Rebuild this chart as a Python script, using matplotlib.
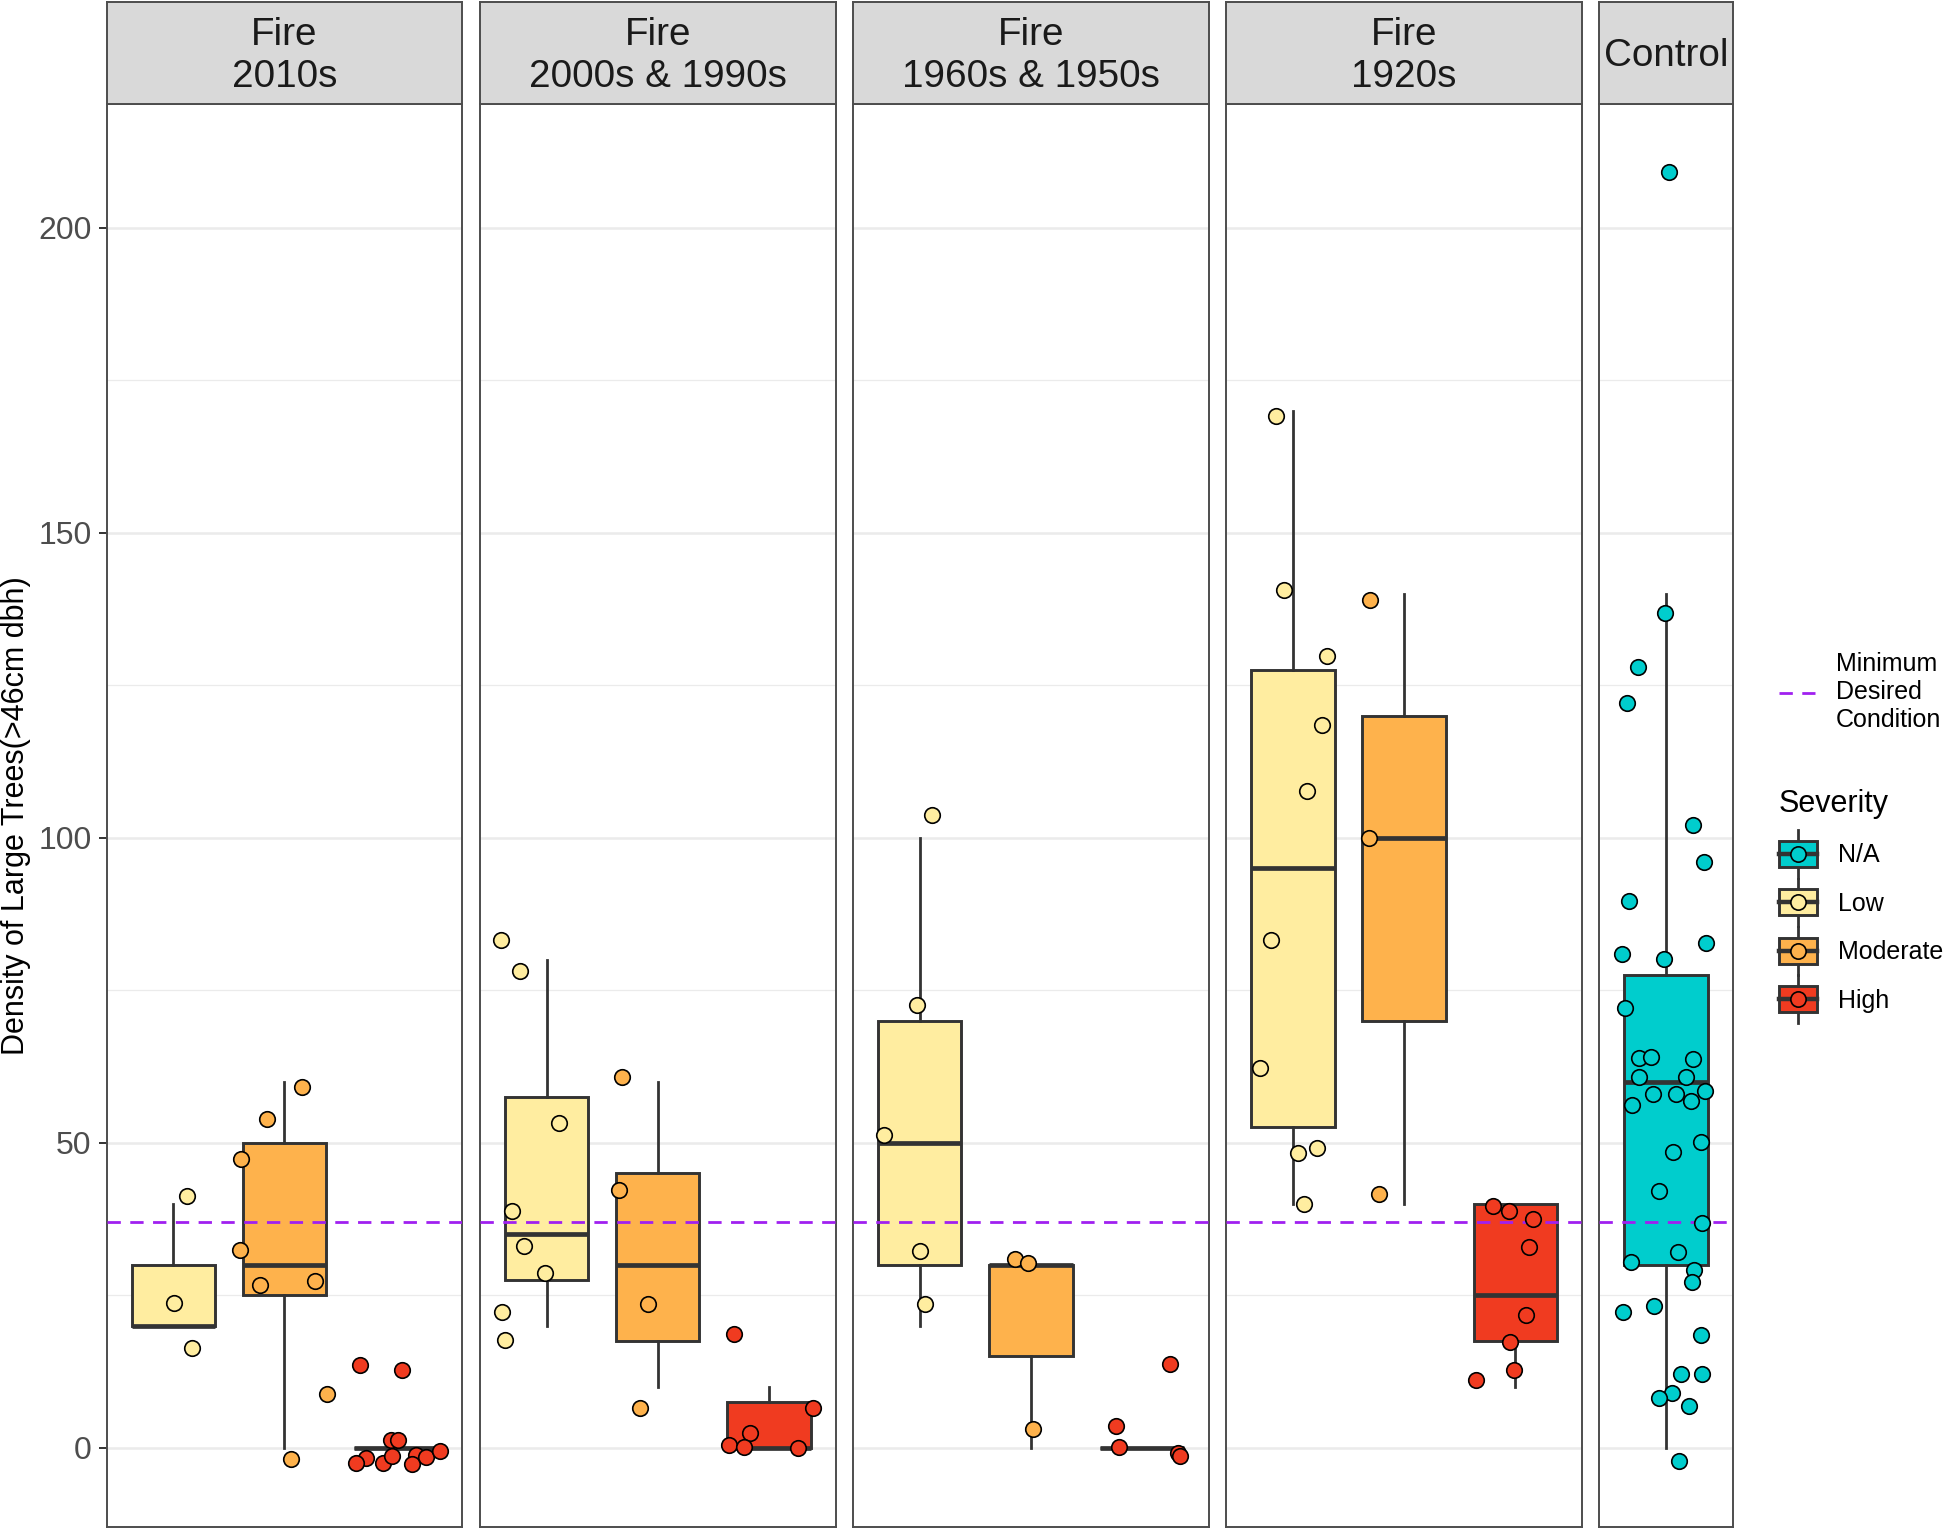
import matplotlib
matplotlib.use("Agg")
import matplotlib.pyplot as plt
from matplotlib.legend_handler import HandlerBase
from matplotlib.lines import Line2D
from matplotlib.patches import Patch, Rectangle

plt.rcParams['font.family'] = ['Liberation Sans', 'DejaVu Sans']

# ---- data ----
periods = ["Fire\n2010s", "Fire\n2000s & 1990s", "Fire\n1960s & 1950s", "Fire\n1920s"]
control_label = "Control"
severities = ["N/A", "Low", "Moderate", "High"]
sev_colors = ["#00CDCD", "#FFEDA0", "#FEB24C", "#F03B20"]
min_desired = 37

# box stats per fire period: [whisker low, q1, median, q3, whisker high]
low_box = [[20, 20, 20, 30, 40], [20, 27.5, 35, 57.5, 80], [20, 30, 50, 70, 100], [40, 52.5, 95, 127.5, 170]]
mod_box = [[0, 25, 30, 50, 60], [10, 17.5, 30, 45, 60], [0, 15, 30, 30, 30], [40, 70, 100, 120, 140]]
high_box = [[0, 0, 0, 0, 0], [0, 0, 0, 7.5, 10], [0, 0, 0, 0, 0], [10, 17.5, 25, 40, 40]]
na_box = [0, 30, 60, 77.5, 140]

# jittered plots (x in category units, y in trees)
low_x = [[1.12, 1.01, 1.17],
         [0.59, 0.76, 1.11, 0.69, 0.80, 0.99, 0.60, 0.63],
         [1.11, 0.98, 0.68, 1.00, 1.05],
         [0.85, 0.92, 1.31, 1.26, 1.13, 0.80, 0.70, 1.05, 1.22, 1.10]]
low_y = [[41.3, 23.7, 16.3],
         [83.2, 78.1, 53.3, 38.8, 33.1, 28.7, 22.3, 17.7],
         [103.7, 72.5, 51.2, 32.2, 23.5],
         [169.1, 140.6, 129.7, 118.4, 107.7, 83.2, 62.2, 48.3, 49.2, 39.9]]
mod_x = [[1.84, 2.16, 1.61, 1.60, 1.78, 2.27, 2.38, 2.06],
         [1.68, 1.65, 1.91, 1.84],
         [1.86, 1.97, 2.02],
         [1.69, 1.68, 1.77]]
mod_y = [[53.8, 59.1, 47.4, 32.4, 26.7, 27.4, 8.8, -1.9],
         [60.7, 42.2, 23.5, 6.5],
         [30.9, 30.3, 3.1],
         [138.9, 100.0, 41.6]]
high_x = [[2.68, 3.06, 2.96, 3.02, 2.73, 2.64, 2.89, 2.97, 3.18, 3.15, 3.27, 3.40],
          [2.69, 3.40, 2.83, 2.64, 2.78, 3.26],
          [3.25, 2.77, 2.79, 3.32, 3.34],
          [2.80, 2.94, 3.16, 3.12, 3.10, 2.95, 2.99, 2.65]]
high_y = [[13.5, 12.7, 1.3, 1.3, -1.7, -2.5, -2.5, -1.4, -1.2, -2.6, -1.5, -0.5],
          [18.6, 6.5, 2.4, 0.5, 0.1, 0.0],
          [13.8, 3.6, 0.1, -0.8, -1.3],
          [39.6, 38.8, 37.5, 32.9, 21.8, 17.4, 12.7, 11.1]]
na_x = [1.03, 0.99, 0.745, 0.65, 1.24, 1.34, 0.67, 1.36, 0.60, 0.98,
        0.63, 0.757, 0.865, 1.24, 0.757, 1.18, 0.88, 1.09, 1.35, 0.69,
        1.22, 1.31, 1.06, 0.94, 1.32, 1.11, 0.685, 1.25, 1.23, 0.61,
        0.89, 1.31, 1.13, 1.32, 1.05, 0.94, 1.21, 1.12]
na_y = [209.1, 136.8, 128.0, 122.1, 102.0, 96.0, 89.6, 82.7, 81.0, 80.1,
        72.1, 63.8, 64.1, 63.7, 60.8, 60.7, 57.9, 58.0, 58.4, 56.1,
        56.8, 50.1, 48.4, 42.0, 36.8, 32.0, 30.4, 29.2, 27.1, 22.2,
        23.2, 18.5, 12.1, 12.1, 9.0, 8.1, 6.9, -2.1]

edge = "#333333"
border = "#4D4D4D"
line_purple = "#A020F0"
dash = (4.8, 3.4)


def draw_group(ax, pos, stats, xs, ys, color):
    st = dict(whislo=stats[0], q1=stats[1], med=stats[2], q3=stats[3], whishi=stats[4])
    ax.bxp([st], positions=[pos], widths=0.75, showfliers=False, showcaps=False,
           patch_artist=True, manage_ticks=False, zorder=2,
           boxprops=dict(facecolor=color, edgecolor=edge, linewidth=2.1),
           medianprops=dict(color=edge, linewidth=3.4, solid_capstyle='butt'),
           whiskerprops=dict(color=edge, linewidth=2.0))
    ax.scatter(xs, ys, s=125, facecolor=color, edgecolor='black', linewidth=1.2, zorder=4)


class BoxKeyHandler(HandlerBase):
    # ggplot-like boxplot legend key with a point on top
    def create_artists(self, legend, orig_handle, xdescent, ydescent, width, height, fontsize, trans):
        fc = orig_handle.get_facecolor()
        x0, y0 = -xdescent, -ydescent
        cx, cy = x0 + width / 2, y0 + height / 2
        wh = height * 0.92
        whisk = Line2D([cx, cx], [cy - wh, cy + wh], color=edge, lw=2.0, transform=trans)
        rect = Rectangle((x0, y0), width, height, facecolor=fc, edgecolor=edge,
                         linewidth=2.1, transform=trans)
        med = Line2D([x0, x0 + width], [cy, cy], color=edge, lw=3.2, transform=trans)
        dot = Line2D([cx], [cy], marker='o', markersize=11, markerfacecolor=fc,
                     markeredgecolor='black', markeredgewidth=1.2, transform=trans)
        return [whisk, rect, med, dot]


W, H = 1944, 1531
fig = plt.figure(figsize=(W / 100, H / 100), dpi=100)
panel_top = 103.7
gs = fig.add_gridspec(1, 5, width_ratios=[3.2, 3.2, 3.2, 3.2, 1.2],
                      left=106.6 / W, right=1732.8 / W, bottom=4 / H, top=1 - panel_top / H,
                      wspace=0.0559)

axes = []
for i in range(5):
    ax = fig.add_subplot(gs[0, i], sharey=axes[0] if axes else None)
    axes.append(ax)

for i, ax in enumerate(axes):
    ax.axhline(min_desired, color=line_purple, lw=2.0, dashes=dash, zorder=3)
    if i < 4:
        draw_group(ax, 1, low_box[i], low_x[i], low_y[i], sev_colors[1])
        draw_group(ax, 2, mod_box[i], mod_x[i], mod_y[i], sev_colors[2])
        draw_group(ax, 3, high_box[i], high_x[i], high_y[i], sev_colors[3])
        ax.set_xlim(0.4, 3.6)
        title = periods[i]
    else:
        draw_group(ax, 1, na_box, na_x, na_y, sev_colors[0])
        ax.set_xlim(0.4, 1.6)
        title = control_label

    ax.set_ylim(-13, 220.3)
    ax.set_yticks([0, 50, 100, 150, 200])
    ax.set_yticks([25, 75, 125, 175], minor=True)
    ax.grid(which='major', axis='y', color='#EBEBEB', lw=1.8, zorder=0)
    ax.grid(which='minor', axis='y', color='#EBEBEB', lw=0.9, zorder=0)
    ax.set_axisbelow(True)
    ax.set_xticks([])
    ax.tick_params(axis='y', which='minor', length=0)
    for sp in ax.spines.values():
        sp.set_color(border)
        sp.set_linewidth(1.4)
    if i == 0:
        ax.tick_params(axis='y', which='major', labelsize=23, labelcolor='#4D4D4D',
                       color=edge, length=5.8, width=1.4, pad=5)
    else:
        ax.tick_params(axis='y', which='major', left=False, labelleft=False)

    # facet strip on top
    pos = ax.get_position()
    sax = fig.add_axes([pos.x0, pos.y1, pos.width, (panel_top - 2) / H])
    sax.set_facecolor('#D9D9D9')
    sax.set_xticks([])
    sax.set_yticks([])
    for sp in sax.spines.values():
        sp.set_color(border)
        sp.set_linewidth(1.4)
    sax.text(0.5, 0.47, title, ha='center', va='center', fontsize=27.8,
             linespacing=1.2, color='#1A1A1A', transform=sax.transAxes)

axes[0].set_ylabel("Density of Large Trees(>46cm dbh)", fontsize=22, color='black')
axes[0].yaxis.set_label_coords(-0.213, 0.5)

# legends on the right
line_handle = Line2D([], [], color=line_purple, lw=2.0, dashes=dash)
fig.legend([line_handle], ["Minimum\nDesired\nCondition"], loc='upper left',
           bbox_to_anchor=(1779 / W, 1 - 652 / H), frameon=False, fontsize=18,
           handlelength=1.42, handletextpad=0.84, borderpad=0, borderaxespad=0)

sev_handles = [Patch(facecolor=c) for c in sev_colors]
fig.legend(sev_handles, severities, loc='upper left', title="Severity", title_fontsize=22,
           bbox_to_anchor=(1779 / W, 1 - 789 / H), frameon=False, fontsize=18,
           handler_map={Patch: BoxKeyHandler()}, handlelength=1.52, handleheight=1.22,
           labelspacing=0.88, handletextpad=0.84, borderpad=0, borderaxespad=0,
           alignment='left')

fig.savefig("out.png", dpi=100)
